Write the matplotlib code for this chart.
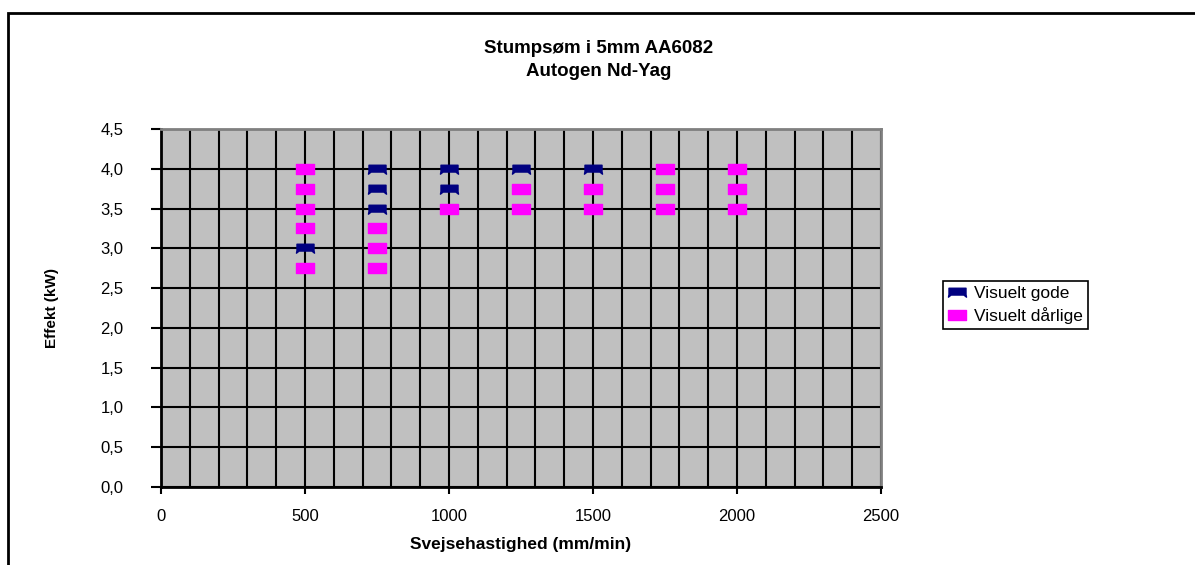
import matplotlib.pyplot as plt
from matplotlib.path import Path
from matplotlib.patches import Rectangle
from matplotlib.ticker import MultipleLocator, FuncFormatter

# data
godeX = [500, 750, 750, 750, 1000, 1000, 1250, 1500]
godeY = [3.0, 4.0, 3.75, 3.5, 4.0, 3.75, 4.0, 4.0]
daarligeX = [500, 500, 500, 500, 500, 750, 750, 750, 1000, 1250, 1250,
             1500, 1500, 1750, 1750, 1750, 2000, 2000, 2000]
daarligeY = [4.0, 3.75, 3.5, 3.25, 2.75, 3.25, 3.0, 2.75, 3.5, 3.75, 3.5,
             3.75, 3.5, 4.0, 3.75, 3.5, 4.0, 3.75, 3.5]

plt.rcParams['font.family'] = ['Liberation Sans', 'DejaVu Sans']

W, H = 1195, 565
fig = plt.figure(figsize=(W / 100, H / 100), dpi=100)

# plot area in pixel coords of the original
left, right, top, bottom = 161, 881, 129, 487
ax = fig.add_axes([left / W, 1 - bottom / H, (right - left) / W, (bottom - top) / H])
ax.set_facecolor('#c0c0c0')

# markers like the old Excel ones
flag = Path([(-1, 0.5), (1, 0.5), (1, -0.25), (1.06, -0.55), (0.75, -0.3),
             (-0.75, -0.3), (-1.06, -0.55), (-1, -0.25), (-1, 0.5)],
            [Path.MOVETO] + [Path.LINETO] * 7 + [Path.CLOSEPOLY])
box = Path([(-1, -0.55), (1, -0.55), (1, 0.55), (-1, 0.55), (-1, -0.55)],
           [Path.MOVETO] + [Path.LINETO] * 3 + [Path.CLOSEPOLY])

ax.plot(daarligeX, daarligeY, ls='none', marker=box, markersize=13,
        color='#ff00ff', mec='#ff00ff', label='Visuelt dårlige', zorder=3)
ax.plot(godeX, godeY, ls='none', marker=flag, markersize=13,
        color='#000080', mec='#000080', label='Visuelt gode', zorder=4)

ax.set_xlim(0, 2500)
ax.set_ylim(0, 4.5)
ax.xaxis.set_major_locator(MultipleLocator(500))
ax.xaxis.set_minor_locator(MultipleLocator(100))
ax.yaxis.set_major_locator(MultipleLocator(0.5))
ax.grid(True, which='minor', axis='x', color='black', lw=1.5)
ax.grid(True, which='major', axis='both', color='black', lw=1.5)
ax.set_axisbelow(True)

ax.yaxis.set_major_formatter(FuncFormatter(lambda v, p: ('%.1f' % v).replace('.', ',')))
ax.xaxis.set_major_formatter(FuncFormatter(lambda v, p: '%d' % v))
ax.tick_params(axis='y', direction='out', length=7, width=1.5, pad=20, labelsize=12)
ax.tick_params(axis='x', which='major', direction='out', length=5, width=1.5, pad=11, labelsize=12)
ax.tick_params(axis='x', which='minor', length=0)

for s in ['left', 'bottom']:
    ax.spines[s].set_color('black')
    ax.spines[s].set_linewidth(2)
for s in ['top', 'right']:
    ax.spines[s].set_color('#808080')
    ax.spines[s].set_linewidth(2)

ax.set_xlabel('Svejsehastighed (mm/min)', fontsize=12.5, fontweight='bold', labelpad=9)
ax.set_ylabel('Effekt (kW)', fontsize=11, fontweight='bold', labelpad=30)

fig.text(599 / W, 1 - 60 / H, 'Stumpsøm i 5mm AA6082\nAutogen Nd-Yag',
         ha='center', va='center', fontsize=13.5, fontweight='bold', linespacing=1.45)

handles, labels = ax.get_legend_handles_labels()
leg = fig.legend(handles[::-1], labels[::-1], loc='center left',
                 bbox_to_anchor=(943 / W, 1 - 305 / H), fontsize=12.5,
                 fancybox=False, edgecolor='black', framealpha=1,
                 borderpad=0.3, handletextpad=0.5, handlelength=1.0,
                 labelspacing=0.35, borderaxespad=0)
leg.get_frame().set_linewidth(1.2)

# chart area border
fig.add_artist(Rectangle((8 / W, -0.1), 1.2, 1.1 - 13 / H, transform=fig.transFigure,
                         fill=False, edgecolor='black', lw=2))

fig.savefig('out.png', dpi=100)
